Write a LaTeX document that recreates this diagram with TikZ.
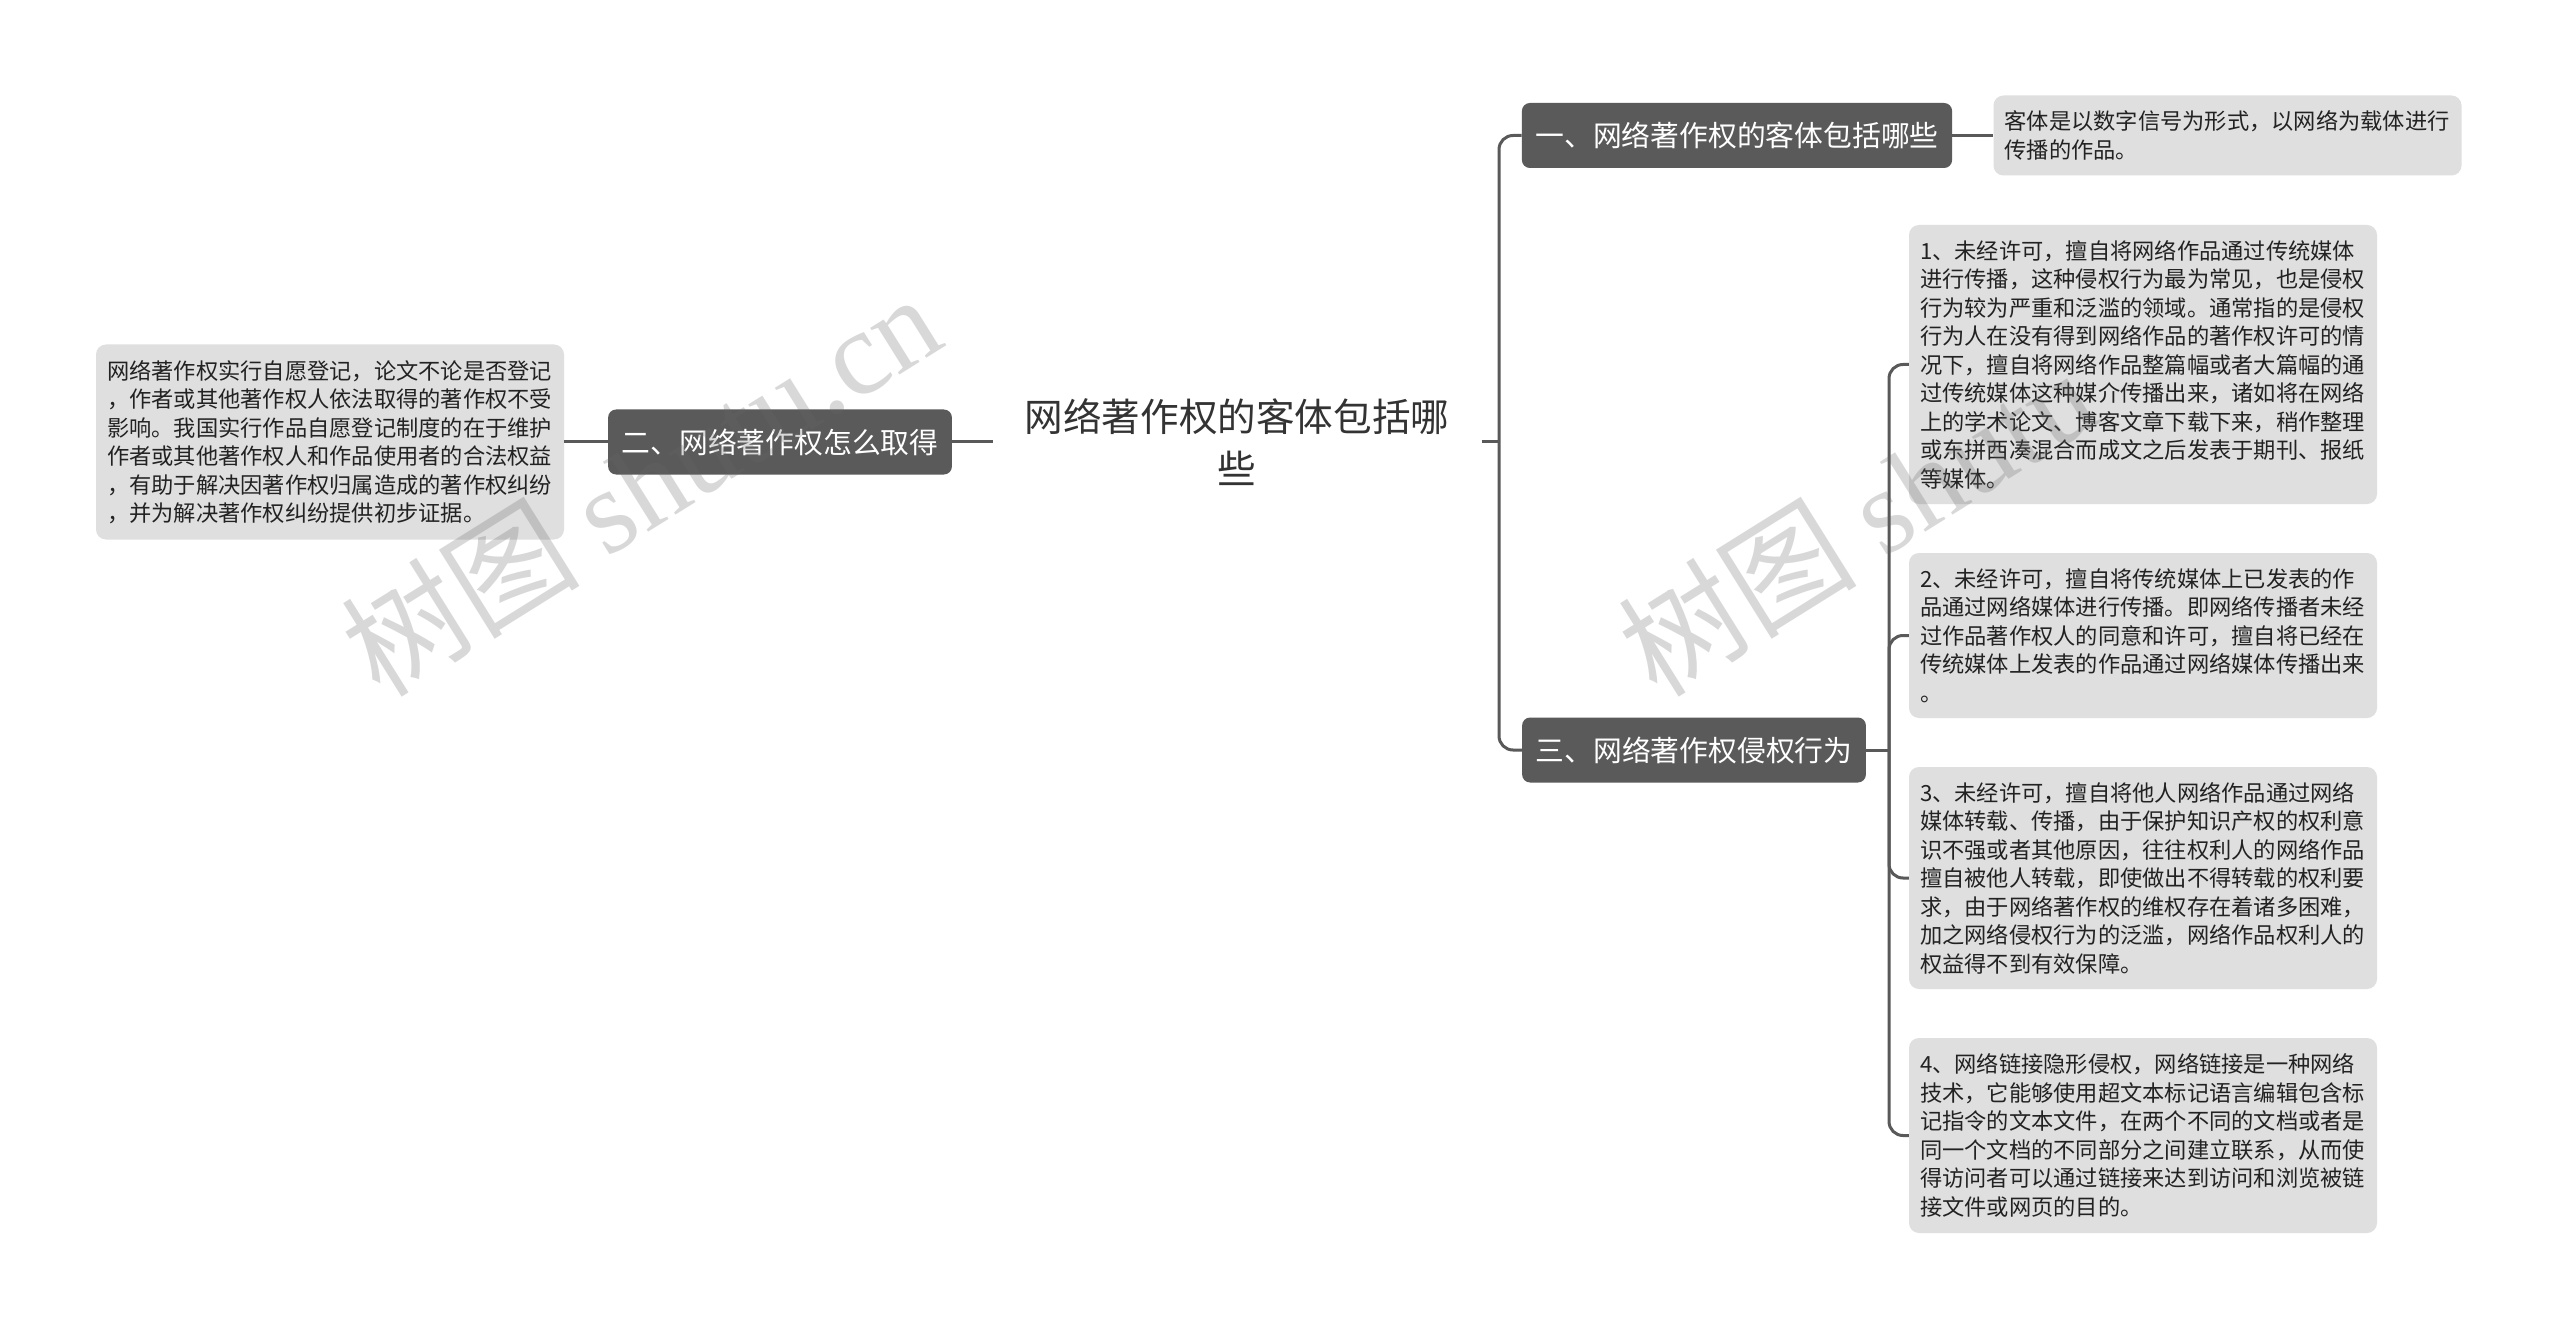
\documentclass[tikz,border=0pt]{standalone}
\usepackage{fontspec}
\setmainfont{Noto Sans CJK SC}
\newfontfamily\wmserif{Liberation Serif}
\definecolor{darkc}{HTML}{5A5A5A}
\definecolor{lightc}{HTML}{DFDFDF}
\definecolor{linec}{HTML}{595959}
\definecolor{textc}{HTML}{222222}
\definecolor{rootc}{HTML}{333333}
\tikzset{
  conn/.style={draw=linec, line width=3pt},
  darkbox/.style={fill=darkc, rounded corners=8pt, text=white,
    font=\fontsize{28.8}{34}\selectfont, inner xsep=13.5pt, inner ysep=0pt,
    minimum height=65pt},
  lightbox/.style={fill=lightc, rounded corners=10pt, text=textc,
    font=\fontsize{22.25}{28.5}\selectfont, text width=446pt, align=left,
    inner xsep=11pt, inner ysep=0pt},
  rootnode/.style={text=rootc, font=\fontsize{38.6}{52.6}\selectfont,
    align=center, inner xsep=32pt, inner ysep=4pt},
  wm/.style={text=black!60, opacity=0.25, font=\fontsize{120}{120}\selectfont,
    anchor=base west, rotate=32, inner sep=0pt}
}
\begin{document}
\begin{tikzpicture}[x=1pt,y=-1pt]
\path[fill=white,use as bounding box] (0,0) rectangle (2560,1329);

% root
\node[rootnode] (root) at (1237,442) {网络著作权的客体包括哪\\些};

% level 1
\node[darkbox] (b1) at (1737,135.5) {一、网络著作权的客体包括哪些};
\node[darkbox] (b2) at (780,442) {二、网络著作权怎么取得};
\node[darkbox] (b3) at (1694,750) {三、网络著作权侵权行为};

% leaves
\node[lightbox, minimum height=80pt] (c1) at (2227.5,135.5) {客体是以数字信号为形式，以网络为载体进行\\传播的作品。};

\node[lightbox, minimum height=195pt] (t0) at (330,442) {网络著作权实行自愿登记，论文不论是否登记\\，作者或其他著作权人依法取得的著作权不受\\影响。我国实行作品自愿登记制度的在于维护\\作者或其他著作权人和作品使用者的合法权益\\，有助于解决因著作权归属造成的著作权纠纷\\，并为解决著作权纠纷提供初步证据。};

\node[lightbox, minimum height=279pt] (t1) at (2143,364.5) {1、未经许可，擅自将网络作品通过传统媒体\\进行传播，这种侵权行为最为常见，也是侵权\\行为较为严重和泛滥的领域。通常指的是侵权\\行为人在没有得到网络作品的著作权许可的情\\况下，擅自将网络作品整篇幅或者大篇幅的通\\过传统媒体这种媒介传播出来，诸如将在网络\\上的学术论文、博客文章下载下来，稍作整理\\或东拼西凑混合而成文之后发表于期刊、报纸\\等媒体。};

\node[lightbox, minimum height=165pt] (t2) at (2143,635.5) {2、未经许可，擅自将传统媒体上已发表的作\\品通过网络媒体进行传播。即网络传播者未经\\过作品著作权人的同意和许可，擅自将已经在\\传统媒体上发表的作品通过网络媒体传播出来\\。};

\node[lightbox, minimum height=222pt] (t3) at (2143,878) {3、未经许可，擅自将他人网络作品通过网络\\媒体转载、传播，由于保护知识产权的权利意\\识不强或者其他原因，往往权利人的网络作品\\擅自被他人转载，即使做出不得转载的权利要\\求，由于网络著作权的维权存在着诸多困难，\\加之网络侵权行为的泛滥，网络作品权利人的\\权益得不到有效保障。};

\node[lightbox, minimum height=195pt] (t4) at (2143,1135.5) {4、网络链接隐形侵权，网络链接是一种网络\\技术，它能够使用超文本标记语言编辑包含标\\记指令的文本文件，在两个不同的文档或者是\\同一个文档的不同部分之间建立联系，从而使\\得访问者可以通过链接来达到访问和浏览被链\\接文件或网页的目的。};

% connectors
\coordinate (rj) at (1499,442);
\coordinate (j3) at (1889,750);
\draw[conn] (root.east) -- (rj);
\draw[conn, rounded corners=14pt] (rj) |- (b1.west);
\draw[conn, rounded corners=14pt] (rj) |- (b3.west);
\draw[conn] (root.west) -- (b2.east);
\draw[conn] (b2.west) -- (t0.east);
\draw[conn] (b1.east) -- (c1.west);
\draw[conn] (b3.east) -- (j3);
\foreach \t in {t1,t2,t3,t4}
  \draw[conn, rounded corners=14pt] (j3) |- (\t.west);

% watermarks
\node[wm] (wm1) at (380,700) {树图 {\wmserif shutu.cn}};
\node[wm] (wm2) at (1657,700) {树图 {\wmserif shutu}};
\end{tikzpicture}
\end{document}
